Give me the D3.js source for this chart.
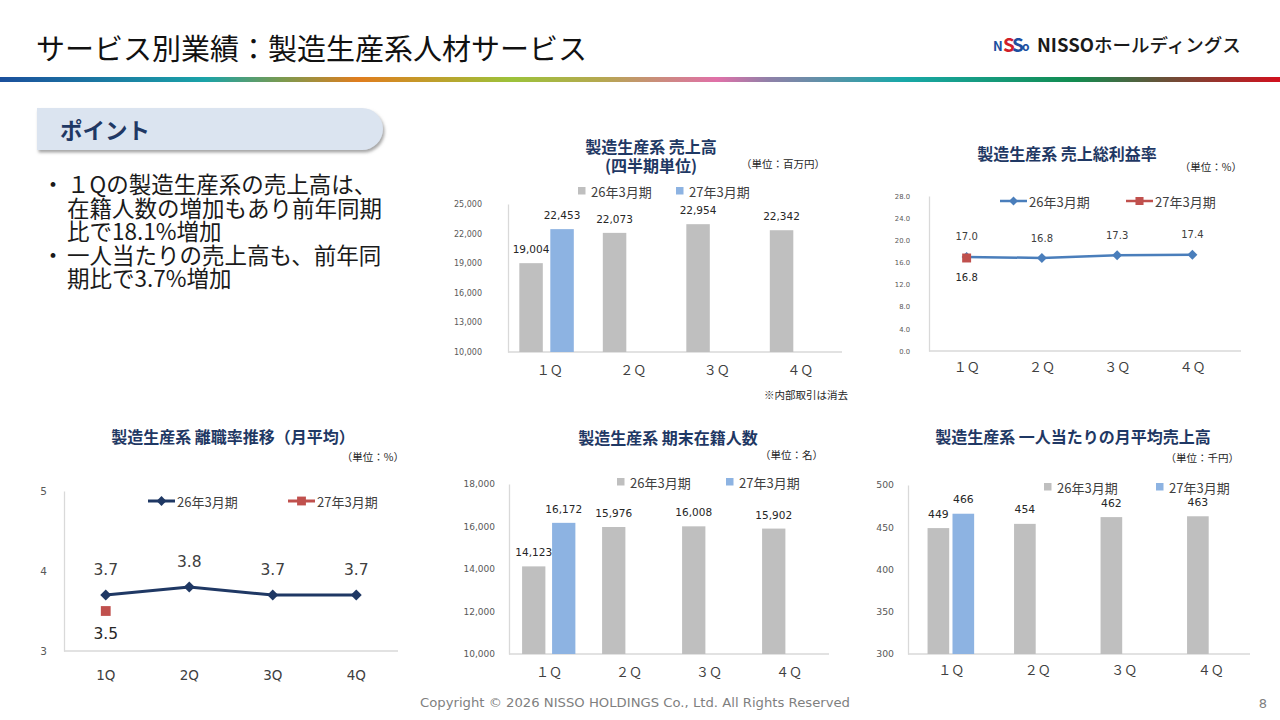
<!DOCTYPE html>
<html>
<head>
<meta charset="utf-8">
<script src="https://cdn.jsdelivr.net/npm/d3@7"></script>
<style>
  body { margin: 0; background: #fff; }
  svg { display: block; }
</style>
</head>
<body>
<svg id="slide" width="1280" height="720"></svg>
<script>
// ---- data ----
const quarters = ['1Q', '2Q', '3Q', '4Q']
const quarterLabelsWide = ['１Ｑ', '２Ｑ', '３Ｑ', '４Ｑ']
const seriesNames = ['26年3月期', '27年3月期']

const sales26 = [19004, 22073, 22954, 22342]
const sales27 = [22453]
const salesTicks = [10000, 13000, 16000, 19000, 22000, 25000]

const margin26 = [17.0, 16.8, 17.3, 17.4]
const margin27 = [16.8]
const marginTicks = [0, 4, 8, 12, 16, 20, 24, 28]

const turnover26 = [3.7, 3.8, 3.7, 3.7]
const turnover27 = [3.5]
const turnoverTicks = [3, 4, 5]

const staff26 = [14123, 15976, 16008, 15902]
const staff27 = [16172]
const staffTicks = [10000, 12000, 14000, 16000, 18000]

const perHead26 = [449, 454, 462, 463]
const perHead27 = [466]
const perHeadTicks = [300, 350, 400, 450, 500]

const pointLines = [
  '１Qの製造生産系の売上高は、',
  '在籍人数の増加もあり前年同期',
  '比で18.1%増加',
  '一人当たりの売上高も、前年同',
  '期比で3.7%増加'
]
const bulletLines = [0, 3]

// ---- style ----
const JP = '"Noto Sans CJK JP", "Noto Sans", sans-serif'
const NUM = '"DejaVu Sans", Verdana, sans-serif'
const NAVY = '#1f3864'
const GRAY_BAR = '#bfbfbf'
const BLUE_BAR = '#8db3e2'
const AXIS = '#d9d9d9'
const RED = '#c0504d'

const svg = d3.select('#slide')
const defs = svg.append('defs')

// header
svg.append('text')
  .attr('x', 36).attr('y', 47)
  .attr('dominant-baseline', 'central')
  .attr('font-family', JP).attr('font-size', 29)
  .attr('fill', '#111')
  .text('サービス別業績：製造生産系人材サービス')

const grad = defs.append('linearGradient').attr('id', 'rule')
const ruleStops = [
  [0, '#1b4f9c'], [0.16, '#1aa3a8'], [0.22, '#7a9a50'], [0.28, '#e07d1e'],
  [0.40, '#9cc23a'], [0.47, '#b5a850'], [0.56, '#e070a8'], [0.60, '#9080a8'],
  [0.705, '#18a8a8'], [0.84, '#128c50'], [0.91, '#6a5038'], [1, '#d2101e']
]
grad.selectAll('stop').data(ruleStops).enter().append('stop')
  .attr('offset', d => d[0]).attr('stop-color', d => d[1])
svg.append('rect').attr('x', 0).attr('y', 77).attr('width', 1280).attr('height', 5)
  .attr('fill', 'url(#rule)')

// logo
const logo = svg.append('g').attr('font-family', JP)
logo.append('text').attr('x', 993).attr('y', 51)
  .attr('font-size', 13).attr('font-weight', 700).attr('fill', '#1d4fa0').text('N')
logo.append('text').attr('x', 1003).attr('y', 52)
  .attr('font-size', 19).attr('font-weight', 700).attr('fill', '#d0202a').text('S')
logo.append('text').attr('x', 1012).attr('y', 52)
  .attr('font-size', 19).attr('font-weight', 700).attr('fill', '#1d4fa0').text('S')
logo.append('text').attr('x', 1022).attr('y', 51)
  .attr('font-size', 12).attr('font-weight', 700).attr('fill', '#1d4fa0').text('o')
const logoText = logo.append('text').attr('x', 1037).attr('y', 44)
  .attr('dominant-baseline', 'central').attr('font-size', 18.5).attr('fill', '#1a1a1a')
logoText.append('tspan').attr('font-weight', 700).text('NISSO')
logoText.append('tspan').attr('font-weight', 500).text('ホールディングス')

// point box
const shadow = defs.append('filter').attr('id', 'shadow')
  .attr('x', '-5%').attr('y', '-20%').attr('width', '115%').attr('height', '150%')
shadow.append('feDropShadow').attr('dx', 1.5).attr('dy', 2.5).attr('stdDeviation', 1.8)
  .attr('flood-color', '#7f7f7f').attr('flood-opacity', 0.7)
const boxPath = d3.path()
boxPath.moveTo(37, 108)
boxPath.lineTo(362, 108)
boxPath.arcTo(383, 108, 383, 129, 21)
boxPath.arcTo(383, 150, 362, 150, 21)
boxPath.lineTo(37, 150)
boxPath.closePath()
svg.append('path').attr('d', boxPath.toString())
  .attr('fill', '#dbe4f0').attr('filter', 'url(#shadow)')
svg.append('text').attr('x', 60).attr('y', 129)
  .attr('dominant-baseline', 'central')
  .attr('font-family', JP).attr('font-size', 22.5).attr('font-weight', 700)
  .attr('fill', NAVY).text('ポイント')

const lineY = d3.scaleLinear().domain([0, 1]).range([183, 206.5])
const points = svg.append('g').attr('font-family', JP).attr('font-size', 22.5).attr('fill', '#1a1a1a')
points.selectAll('text.line').data(pointLines).enter().append('text')
  .attr('class', 'line')
  .attr('x', 67).attr('y', (d, i) => lineY(i))
  .attr('dominant-baseline', 'central')
  .text(d => d)
points.selectAll('text.bullet').data(bulletLines).enter().append('text')
  .attr('class', 'bullet')
  .attr('x', 53).attr('y', d => lineY(d))
  .attr('text-anchor', 'middle').attr('dominant-baseline', 'central')
  .text('・')

// ---- chart helpers ----
function addTitle(g, cfg) {
  g.selectAll('text.title').data(cfg.title).enter().append('text')
    .attr('class', 'title')
    .attr('x', cfg.titleX).attr('y', (d, i) => cfg.titleY + i * 19)
    .attr('text-anchor', 'middle').attr('dominant-baseline', 'central')
    .attr('font-family', JP).attr('font-size', 16).attr('font-weight', 700)
    .attr('fill', NAVY).text(d => d)
  g.append('text')
    .attr('x', cfg.unitX).attr('y', cfg.unitY)
    .attr('text-anchor', 'end').attr('dominant-baseline', 'central')
    .attr('font-family', JP).attr('font-size', 10.5).attr('fill', '#262626')
    .text(cfg.unit)
}

function addAxes(g, cfg, x, y) {
  const yAxis = g.append('g')
    .attr('transform', `translate(${cfg.xRange[0]},0)`)
    .call(d3.axisLeft(y).tickValues(cfg.ticks).tickFormat(cfg.tickFormat)
      .tickSize(0).tickPadding(cfg.tickPad))
  yAxis.attr('font-family', NUM).attr('font-size', cfg.tickFont)
  yAxis.select('.domain').attr('stroke', AXIS).attr('stroke-width', 1.3)
  yAxis.selectAll('text').attr('fill', '#595959')

  const xAxis = g.append('g')
    .attr('transform', `translate(0,${cfg.yRange[0]})`)
    .call(d3.axisBottom(x).tickFormat((d, i) => cfg.catLabels[i]).tickSize(0))
  xAxis.attr('font-family', cfg.catFamily).attr('font-size', cfg.catFont)
  xAxis.select('.domain').remove()
  xAxis.selectAll('text').attr('fill', '#404040')
    .attr('y', cfg.catOffset).attr('dy', '0.35em')
  g.append('line')
    .attr('x1', cfg.xRange[0]).attr('x2', cfg.axisEnd || cfg.xRange[1])
    .attr('y1', cfg.yRange[0]).attr('y2', cfg.yRange[0])
    .attr('stroke', AXIS).attr('stroke-width', 1.3)
}

function drawBarChart(cfg, prev, curr) {
  const g = svg.append('g')
  addTitle(g, cfg)

  const x = d3.scaleBand().domain(quarters).range(cfg.xRange)
  const inner = d3.scaleBand().domain(['prev', 'curr']).range([0, x.bandwidth()])
    .paddingInner(cfg.padInner).paddingOuter(cfg.padOuter).align(cfg.align)
  const y = d3.scaleLinear().domain(cfg.domain).range(cfg.yRange)
  addAxes(g, cfg, x, y)

  const series = [
    { key: 'prev', color: GRAY_BAR, values: prev },
    { key: 'curr', color: BLUE_BAR, values: curr }
  ]
  series.forEach(s => {
    const rows = s.values.map((v, i) => ({ q: quarters[i], v }))
    g.selectAll(null).data(rows).enter().append('rect')
      .attr('x', d => x(d.q) + inner(s.key))
      .attr('width', inner.bandwidth())
      .attr('y', d => y(d.v))
      .attr('height', d => y(cfg.domain[0]) - y(d.v))
      .attr('fill', s.color)
    g.selectAll(null).data(rows).enter().append('text')
      .attr('x', d => x(d.q) + inner(s.key) + inner.bandwidth() / 2)
      .attr('y', d => y(d.v) - 14)
      .attr('text-anchor', 'middle').attr('dominant-baseline', 'central')
      .attr('font-family', NUM).attr('font-size', cfg.labelFont).attr('fill', '#262626')
      .text(d => cfg.labelFormat(d.v))
  })

  // legend
  const legend = g.selectAll('g.legend').data(series).enter().append('g')
    .attr('transform', (d, i) => `translate(${cfg.legendX[i]},${cfg.legendY})`)
  legend.append('rect').attr('x', 0).attr('y', -4).attr('width', 7.5).attr('height', 7.5)
    .attr('fill', d => d.color)
  legend.append('text').attr('x', 13).attr('y', 0)
    .attr('dominant-baseline', 'central')
    .attr('font-family', JP).attr('font-size', 13).attr('fill', '#404040')
    .text((d, i) => seriesNames[i])
  return g
}

function marker(sel, type, size) {
  if (type === 'diamond') {
    sel.attr('d', d3.symbol(d3.symbolSquare, size)())
      .attr('transform', function () { return d3.select(this).attr('transform') + ' rotate(45)' })
  } else {
    sel.attr('d', d3.symbol(d3.symbolSquare, size)())
  }
}

function drawLineChart(cfg, prev, curr) {
  const g = svg.append('g')
  addTitle(g, cfg)

  const x = d3.scaleBand().domain(quarters).range(cfg.xRange)
  const y = d3.scaleLinear().domain(cfg.domain).range(cfg.yRange)
  addAxes(g, cfg, x, y)
  const cx = q => x(q) + x.bandwidth() / 2

  const rowsPrev = prev.map((v, i) => ({ q: quarters[i], v }))
  const rowsCurr = curr.map((v, i) => ({ q: quarters[i], v }))

  g.append('path').datum(rowsPrev)
    .attr('d', d3.line().x(d => cx(d.q)).y(d => y(d.v)))
    .attr('fill', 'none').attr('stroke', cfg.lineColor).attr('stroke-width', cfg.lineWidth)

  g.selectAll(null).data(rowsPrev).enter().append('path')
    .attr('transform', d => `translate(${cx(d.q)},${y(d.v)})`)
    .attr('fill', cfg.lineColor)
    .call(marker, 'diamond', cfg.markerSize)
  g.selectAll(null).data(rowsCurr).enter().append('path')
    .attr('transform', d => `translate(${cx(d.q)},${y(d.v)})`)
    .attr('fill', RED)
    .call(marker, 'square', cfg.markerSize * 1.6)

  g.selectAll(null).data(rowsPrev).enter().append('text')
    .attr('x', d => cx(d.q)).attr('y', d => y(d.v) - cfg.labelAbove)
    .attr('text-anchor', 'middle').attr('dominant-baseline', 'central')
    .attr('font-family', NUM).attr('font-size', cfg.labelFont).attr('fill', '#404040')
    .text(d => cfg.labelFormat(d.v))
  g.selectAll(null).data(rowsCurr).enter().append('text')
    .attr('x', d => cx(d.q)).attr('y', d => y(d.v) + cfg.labelBelow)
    .attr('text-anchor', 'middle').attr('dominant-baseline', 'central')
    .attr('font-family', NUM).attr('font-size', cfg.labelFont).attr('fill', '#262626')
    .text(d => cfg.labelFormat(d.v))

  // legend
  const legendItems = [
    { color: cfg.lineColor, type: 'diamond', size: cfg.markerSize * 0.8 },
    { color: RED, type: 'square', size: cfg.markerSize * 1.3 }
  ]
  const legend = g.selectAll('g.legend').data(legendItems).enter().append('g')
    .attr('transform', (d, i) => `translate(${cfg.legendX[i]},${cfg.legendY})`)
  legend.append('line').attr('x1', 0).attr('x2', 27).attr('y1', 0).attr('y2', 0)
    .attr('stroke', d => d.color).attr('stroke-width', cfg.lineWidth)
  legend.append('path')
    .attr('transform', 'translate(13.5,0)')
    .attr('fill', d => d.color)
    .each(function (d) { d3.select(this).call(marker, d.type, d.size) })
  legend.append('text').attr('x', 29).attr('y', 0)
    .attr('dominant-baseline', 'central')
    .attr('font-family', JP).attr('font-size', 13).attr('fill', '#404040')
    .text((d, i) => seriesNames[i])
  return g
}

// ---- charts ----
const commaFmt = d3.format(',')

drawBarChart({
  title: ['製造生産系 売上高', '(四半期単位)'], titleX: 651, titleY: 146,
  unit: '（単位：百万円）', unitX: 825, unitY: 163,
  xRange: [508, 842], yRange: [352, 204], domain: [10000, 25000],
  ticks: salesTicks, tickFormat: commaFmt, tickFont: 8, tickPad: 26,
  padInner: 0.242, padOuter: 0.468, align: 0.39,
  catLabels: quarterLabelsWide, catFamily: JP, catFont: 13, catOffset: 18,
  labelFont: 10.5, labelFormat: commaFmt,
  legendX: [578, 676], legendY: 191
}, sales26, sales27)

svg.append('text').attr('x', 848).attr('y', 394)
  .attr('text-anchor', 'end').attr('dominant-baseline', 'central')
  .attr('font-family', JP).attr('font-size', 10.5).attr('fill', '#262626')
  .text('※内部取引は消去')

drawLineChart({
  title: ['製造生産系 売上総利益率'], titleX: 1067, titleY: 153,
  unit: '（単位：%）', unitX: 1242, unitY: 166,
  xRange: [929, 1230], axisEnd: 1241, yRange: [351, 196], domain: [0, 28],
  ticks: marginTicks, tickFormat: d3.format('.1f'), tickFont: 6.8, tickPad: 19,
  catLabels: quarterLabelsWide, catFamily: JP, catFont: 13, catOffset: 16,
  lineColor: '#4a7ebb', lineWidth: 2.5, markerSize: 50,
  labelFont: 10, labelFormat: d3.format('.1f'), labelAbove: 20, labelBelow: 19,
  legendX: [1000, 1126], legendY: 201
}, margin26, margin27)

drawLineChart({
  title: ['製造生産系 離職率推移（月平均）'], titleX: 233, titleY: 436,
  unit: '（単位：%）', unitX: 404, unitY: 456,
  xRange: [64, 398], yRange: [651, 491], domain: [3, 5],
  ticks: turnoverTicks, tickFormat: d3.format('d'), tickFont: 10.5, tickPad: 17,
  catLabels: quarters, catFamily: NUM, catFont: 13.5, catOffset: 24,
  lineColor: NAVY, lineWidth: 3, markerSize: 60,
  labelFont: 15.5, labelFormat: d3.format('.1f'), labelAbove: 25, labelBelow: 23,
  legendX: [148, 288], legendY: 501
}, turnover26, turnover27)

drawBarChart({
  title: ['製造生産系 期末在籍人数'], titleX: 668, titleY: 437,
  unit: '（単位：名）', unitX: 823, unitY: 454,
  xRange: [509, 829], yRange: [654, 484], domain: [10000, 18000],
  ticks: staffTicks, tickFormat: commaFmt, tickFont: 9, tickPad: 14,
  padInner: 0.223, padOuter: 0.445, align: 0.49,
  catLabels: quarterLabelsWide, catFamily: JP, catFont: 13, catOffset: 18,
  labelFont: 10.5, labelFormat: commaFmt,
  legendX: [617, 726], legendY: 482
}, staff26, staff27)

drawBarChart({
  title: ['製造生産系 一人当たりの月平均売上高'], titleX: 1073, titleY: 436,
  unit: '（単位：千円）', unitX: 1239, unitY: 457,
  xRange: [908, 1254], axisEnd: 1250, yRange: [654, 485], domain: [300, 500],
  ticks: perHeadTicks, tickFormat: d3.format('d'), tickFont: 9.3, tickPad: 14,
  padInner: 0.132, padOuter: 0.8, align: 0.49,
  catLabels: quarterLabelsWide, catFamily: JP, catFont: 13, catOffset: 16,
  labelFont: 10.8, labelFormat: d3.format('d'),
  legendX: [1044, 1156], legendY: 487
}, perHead26, perHead27)

// footer
svg.append('text').attr('x', 635).attr('y', 703)
  .attr('text-anchor', 'middle').attr('dominant-baseline', 'central')
  .attr('font-family', NUM).attr('font-size', 12).attr('fill', '#7f7f7f')
  .attr('textLength', 430).attr('lengthAdjust', 'spacingAndGlyphs')
  .text('Copyright © 2026 NISSO HOLDINGS Co., Ltd. All Rights Reserved')
svg.append('text').attr('x', 1263).attr('y', 703)
  .attr('text-anchor', 'middle').attr('dominant-baseline', 'central')
  .attr('font-family', NUM).attr('font-size', 13).attr('fill', '#7f7f7f')
  .text('8')
</script>
</body>
</html>
